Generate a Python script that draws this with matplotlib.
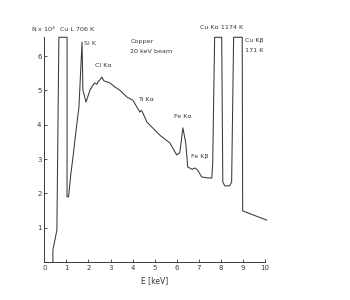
import matplotlib
matplotlib.use("Agg")
import matplotlib.pyplot as plt

# spectrum (energy in keV, counts in units of 10^4)
energy = [0.39, 0.39, 0.57, 0.66, 1.03, 1.03, 1.10, 1.20, 1.30, 1.45, 1.57, 1.71,
          1.75, 1.89, 2.07, 2.20, 2.29, 2.38, 2.43, 2.52, 2.61, 2.70, 2.84, 2.97,
          3.20, 3.42, 3.74, 4.01, 4.33, 4.40, 4.47, 4.65, 5.23, 5.69, 6.00, 6.14,
          6.28, 6.41, 6.50, 6.70, 6.82, 6.95, 7.13, 7.40, 7.59, 7.63, 7.72, 8.04,
          8.09, 8.18, 8.40, 8.49, 8.58, 8.81, 8.97, 8.99, 10.08]
counts = [0.0, 0.35, 0.93, 6.55, 6.55, 1.90, 1.90, 2.55, 3.06, 3.90, 4.52, 6.41,
          5.01, 4.66, 5.01, 5.15, 5.22, 5.18, 5.25, 5.31, 5.39, 5.28, 5.25, 5.22,
          5.10, 5.01, 4.81, 4.72, 4.37, 4.42, 4.34, 4.08, 3.70, 3.47, 3.12, 3.18,
          3.91, 3.47, 2.77, 2.70, 2.74, 2.68, 2.48, 2.45, 2.45, 2.83, 6.55, 6.55,
          2.33, 2.22, 2.22, 2.33, 6.55, 6.55, 6.55, 1.49, 1.22]

x_ticks = list(range(0, 11))
y_ticks = list(range(0, 7))

# peak labels: (text, energy, counts)
labels = [
    ("N x 10$^4$", -0.60, 6.72),
    ("Cu L 706 K", 0.72, 6.72),
    ("Si K", 1.80, 6.33),
    ("Cl K\u03b1", 2.30, 5.68),
    ("Copper", 3.90, 6.38),
    ("20 keV beam", 3.90, 6.08),
    ("Ti K\u03b1", 4.25, 4.70),
    ("Fe K\u03b1", 5.90, 4.20),
    ("Fe K\u03b2", 6.65, 3.03),
    ("Cu K\u03b1 1174 K", 7.05, 6.80),
    ("Cu K\u03b2", 9.10, 6.42),
    ("171 K", 9.10, 6.12),
]

ink = "#383838"

fig = plt.figure(figsize=(3.5, 3.0), dpi=100)
ax = fig.add_axes([0.1266, 0.1267, 0.6304, 0.7547])

ax.plot(energy, counts, color=ink, linewidth=0.75, clip_on=False)

ax.set_xlim(0, 10)
ax.set_ylim(0, 6.6)
ax.set_xticks(x_ticks)
ax.set_yticks(y_ticks)
ax.set_yticklabels([""] + [str(t) for t in y_ticks[1:]])
ax.tick_params(direction="in", length=2, width=0.6, labelsize=5, colors=ink, pad=2)

for side in ["top", "right"]:
    ax.spines[side].set_visible(False)
for side in ["left", "bottom"]:
    ax.spines[side].set_color(ink)
    ax.spines[side].set_linewidth(0.7)
ax.spines["left"].set_bounds(0, 6.55)

ax.set_xlabel("E [keV]", fontsize=5.5, color=ink, labelpad=4)

for text, x, y in labels:
    ax.text(x, y, text, fontsize=4.6, color=ink, clip_on=False)

fig.savefig("out.png", dpi=100, facecolor="white")
